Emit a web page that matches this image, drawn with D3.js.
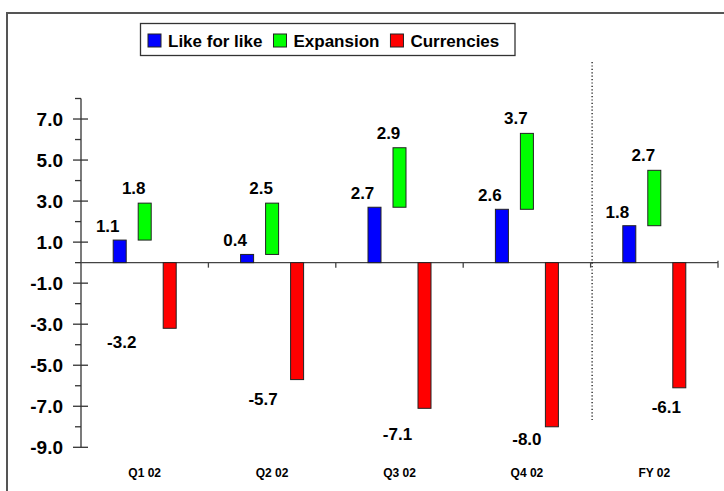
<!DOCTYPE html>
<html>
<head>
<meta charset="utf-8">
<script src="https://cdn.jsdelivr.net/npm/d3@7/dist/d3.min.js"></script>
<style>
  html, body { margin: 0; padding: 0; background: #fff; }
  svg { display: block; }
  text { font-family: "Liberation Sans", Arial, sans-serif; font-weight: bold; fill: #000; }
</style>
</head>
<body>
<svg id="chart" width="724" height="491"></svg>
<script>
// ---- data ----
const categories = ["Q1 02", "Q2 02", "Q3 02", "Q4 02", "FY 02"];
const likeForLike = [1.1, 0.4, 2.7, 2.6, 1.8];
const expansion   = [1.8, 2.5, 2.9, 3.7, 2.7];
const currencies  = [-3.2, -5.7, -7.1, -8.0, -6.1];
const seriesNames = ["Like for like", "Expansion", "Currencies"];
const yTickValues = [7, 5, 3, 1, -1, -3, -5, -7, -9];

// ---- layout (not data) ----
const colors = ["#0000ff", "#00ff00", "#ff0000"];
const redLabelDx = [-48, -34, -27, -25, -13];
const redLabelDy = [7, 13, 19, 6, 13];

const fmt = v => d3.format(".1f")(v).replace("\u2212", "-");

const svg = d3.select("#chart");

// outer frame
svg.append("path")
  .attr("d", "M7,495 V13 H730")
  .attr("fill", "none").attr("stroke", "#555").attr("stroke-width", 2);

const y = d3.scaleLinear().domain([-9, 8]).range([447.3, 98.5]);
const x = d3.scaleBand().domain(categories).range([81, 718]).paddingInner(0).paddingOuter(0);
const barW = 13, off = 25;
const cx = c => x(c) + x.bandwidth() / 2;

// y axis line
svg.append("line").attr("x1", 81).attr("x2", 81).attr("y1", y(8)).attr("y2", y(-9))
  .attr("stroke", "#333").attr("stroke-width", 1.3);
// minor ticks
const minor = d3.range(-9, 9).filter(v => !yTickValues.includes(v));
svg.selectAll(".minor").data(minor).enter().append("line")
  .attr("x1", 75).attr("x2", 81).attr("y1", d => y(d)).attr("y2", d => y(d))
  .attr("stroke", "#333").attr("stroke-width", 1.3);
// major ticks
svg.selectAll(".major").data(yTickValues).enter().append("line")
  .attr("x1", 73).attr("x2", 88).attr("y1", d => y(d)).attr("y2", d => y(d))
  .attr("stroke", "#333").attr("stroke-width", 1.3);
svg.selectAll(".ylab").data(yTickValues).enter().append("text")
  .attr("x", 63).attr("y", d => y(d) + 7)
  .attr("text-anchor", "end").attr("font-size", 19)
  .text(d => fmt(d));

// zero line
svg.append("line").attr("x1", 81).attr("x2", 718).attr("y1", y(0)).attr("y2", y(0))
  .attr("stroke", "#444").attr("stroke-width", 1.3);
// category boundary ticks
const bounds = categories.slice(1).map(c => x(c)).concat([718]);
svg.selectAll(".xt").data(bounds).enter().append("line")
  .attr("x1", d => d).attr("x2", d => d)
  .attr("y1", y(0)).attr("y2", y(0) + 5)
  .attr("stroke", "#444").attr("stroke-width", 1.3);
svg.append("line").attr("x1", 718).attr("x2", 718).attr("y1", y(0) - 2).attr("y2", y(0))
  .attr("stroke", "#444").attr("stroke-width", 1.3);

// dotted separator before FY
svg.append("line")
  .attr("x1", x("FY 02") + 1.5).attr("x2", x("FY 02") + 1.5)
  .attr("y1", 62).attr("y2", 420)
  .attr("stroke", "#000").attr("stroke-width", 1.2).attr("stroke-dasharray", "1.2,2.2");

// category labels
svg.selectAll(".xlab").data(categories).enter().append("text")
  .attr("x", d => cx(d)).attr("y", 477)
  .attr("text-anchor", "middle").attr("font-size", 12)
  .text(d => d);

// bars
const g = svg.append("g");
categories.forEach((c, i) => {
  const lfl = likeForLike[i], ex = expansion[i], cu = currencies[i];
  g.append("rect")
    .attr("x", cx(c) - off - barW / 2).attr("width", barW)
    .attr("y", y(Math.max(0, lfl))).attr("height", Math.abs(y(lfl) - y(0)))
    .attr("fill", colors[0]).attr("stroke", "#222").attr("stroke-width", 1);
  g.append("rect")
    .attr("x", cx(c) - barW / 2).attr("width", barW)
    .attr("y", y(lfl + ex)).attr("height", y(lfl) - y(lfl + ex))
    .attr("fill", colors[1]).attr("stroke", "#222").attr("stroke-width", 1);
  g.append("rect")
    .attr("x", cx(c) + off - barW / 2).attr("width", barW)
    .attr("y", y(0)).attr("height", y(cu) - y(0))
    .attr("fill", colors[2]).attr("stroke", "#222").attr("stroke-width", 1);

  g.append("text").attr("font-size", 17).attr("text-anchor", "middle")
    .attr("x", cx(c) - off - 12).attr("y", y(lfl) - 8)
    .text(fmt(lfl));
  g.append("text").attr("font-size", 17).attr("text-anchor", "middle")
    .attr("x", cx(c) - 11).attr("y", y(lfl + ex) - 9)
    .text(fmt(ex));
  g.append("text").attr("font-size", 17).attr("text-anchor", "middle")
    .attr("x", cx(c) + off + redLabelDx[i]).attr("y", y(cu) + redLabelDy[i] + 12.5)
    .text(fmt(cu));
});

// legend
const lg = svg.append("g");
lg.append("rect").attr("x", 140.5).attr("y", 23.5).attr("width", 374.5).attr("height", 32)
  .attr("fill", "#fff").attr("stroke", "#333").attr("stroke-width", 1.3);
let lx = 148;
seriesNames.forEach((n, i) => {
  lg.append("rect").attr("x", lx).attr("y", 34).attr("width", 13).attr("height", 13)
    .attr("fill", colors[i]).attr("stroke", "#222").attr("stroke-width", 1);
  const t = lg.append("text").attr("x", lx + 20).attr("y", 47).attr("font-size", 17).text(n);
  const w = t.node().getComputedTextLength();
  lx = lx + 20 + w + 11;
});
</script>
</body>
</html>
